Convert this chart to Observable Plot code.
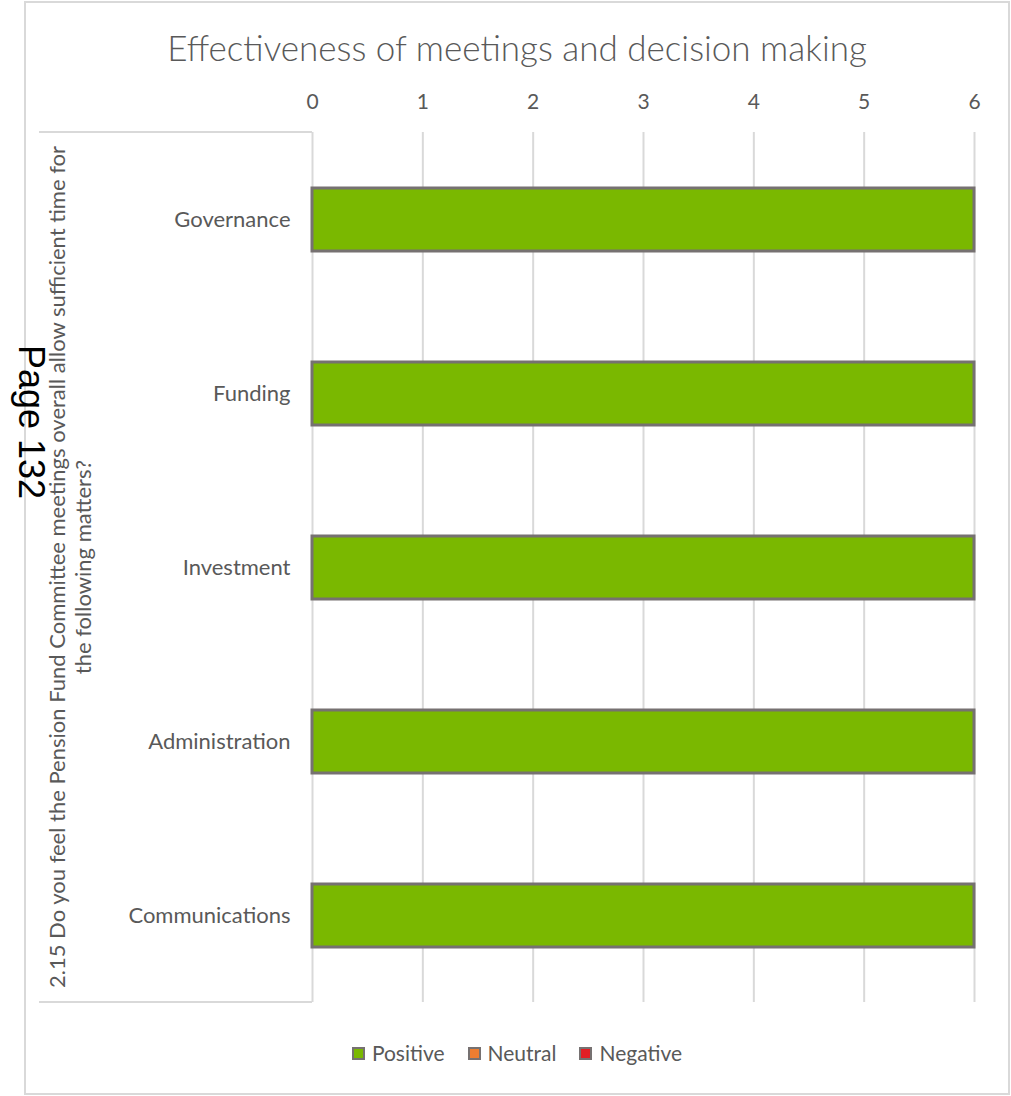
<!DOCTYPE html>
<html><head><meta charset="utf-8">
<script src="https://cdn.jsdelivr.net/npm/d3@7"></script>
<script src="https://cdn.jsdelivr.net/npm/@observablehq/plot@0.6"></script>
<style>
body{margin:0;background:#fff;}
#fig{position:relative;width:1011px;height:1096px;font-family:Lato,"Open Sans",sans-serif;color:#595959;overflow:hidden;}
#frame{position:absolute;left:24px;top:1px;width:986px;height:1094px;border:2px solid #d9d9d9;box-sizing:border-box;}
#title{position:absolute;left:25px;width:984px;top:27px;text-align:center;font-size:35px;line-height:40px;font-weight:300;}
#catbox{position:absolute;left:39px;top:131px;width:273px;height:872px;border-top:2px solid #d9d9d9;border-bottom:2px solid #d9d9d9;box-sizing:border-box;}
#qlabel{position:absolute;left:70px;top:567px;width:900px;transform:translate(-50%,-50%) rotate(-90deg);text-align:center;font-size:22px;line-height:26px;white-space:nowrap;}
#plot{position:absolute;left:0;top:0;}
#legend{position:absolute;left:25px;width:984px;top:1040px;display:flex;justify-content:center;gap:23px;font-size:21px;line-height:26px;}
#legend .item{display:flex;align-items:center;gap:7px;}
#legend .sw{width:9px;height:9px;border:2px solid #767171;display:inline-block;}
#page{position:absolute;left:31px;top:422px;transform:translate(-50%,-50%) rotate(90deg);font-family:"Liberation Sans",Arial,sans-serif;font-size:36px;color:#000;white-space:nowrap;line-height:36px;}
</style>
</head><body>
<div id="fig">
  <div id="frame"></div>
  <div id="title"></div>
  <div id="catbox"></div>
  <div id="qlabel"></div>
  <div id="plot"></div>
  <div id="legend"></div>
  <div id="page"></div>
</div>
<script>
const titleText = "Effectiveness of meetings and decision making";
const questionLines = ["2.15 Do you feel the Pension Fund Committee meetings overall allow sufficient time for", "the following matters?"];
const pageText = "Page 132";
const categories = ["Governance", "Funding", "Investment", "Administration", "Communications"];
const seriesNames = ["Positive", "Neutral", "Negative"];
const seriesColors = ["#7ab800", "#ed7d31", "#e31e24"];
const positive = [6, 6, 6, 6, 6];
const neutral = [0, 0, 0, 0, 0];
const negative = [0, 0, 0, 0, 0];
const xTicks = [0, 1, 2, 3, 4, 5, 6];

const seriesValues = [positive, neutral, negative];
const data = [];
seriesNames.forEach((s, si) => categories.forEach((c, ci) => data.push({category: c, series: s, value: seriesValues[si][ci]})));

document.getElementById("title").textContent = titleText;
document.getElementById("qlabel").innerHTML = questionLines.map(l => `<div>${l}</div>`).join("");
document.getElementById("page").textContent = pageText;

const legend = document.getElementById("legend");
seriesNames.forEach((s, i) => {
  const it = document.createElement("div");
  it.className = "item";
  it.innerHTML = `<span class="sw" style="background:${seriesColors[i]}"></span><span>${s}</span>`;
  legend.appendChild(it);
});

const chart = Plot.plot({
  width: 1011,
  height: 1096,
  marginLeft: 312,
  marginRight: 37,
  marginTop: 132,
  marginBottom: 94,
  style: {fontFamily: "Lato, 'Open Sans', sans-serif", color: "#595959", background: "transparent"},
  x: {domain: [0, 6]},
  y: {domain: categories, paddingInner: 0.64, paddingOuter: 0.32},
  color: {domain: seriesNames, range: seriesColors},
  marks: [
    Plot.gridX(xTicks, {stroke: "#d9d9d9", strokeOpacity: 1, strokeWidth: 2}),
    Plot.barX(data.filter(d => d.value > 0), Plot.stackX({x: "value", y: "category", fill: "series", order: seriesNames, stroke: "#767171", strokeWidth: 3})),
    Plot.axisX(xTicks, {anchor: "top", tickSize: 0, tickPadding: 24, fontSize: 21, label: null}),
    Plot.axisY({tickSize: 0, tickPadding: 22, fontSize: 22, label: null})
  ]
});
document.getElementById("plot").appendChild(chart);
</script>
</body></html>
